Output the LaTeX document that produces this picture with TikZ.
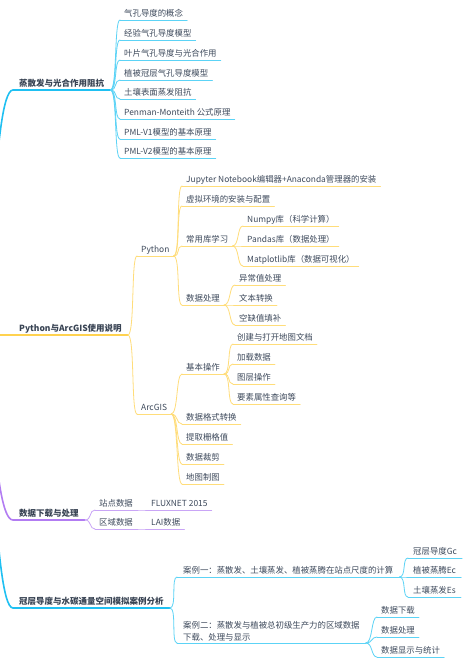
\documentclass[tikz,border=0pt]{standalone}
\usepackage{fontspec}
\setmainfont{Noto Sans CJK SC}
\definecolor{txt}{HTML}{3E4A5C}
\definecolor{cyanM}{HTML}{1FC0F2}
\definecolor{cyanL}{HTML}{5CD3F6}
\definecolor{yelM}{HTML}{FFD24F}
\definecolor{yelL}{HTML}{FFDD7A}
\definecolor{purM}{HTML}{B27CF2}
\definecolor{purL}{HTML}{C9A5F6}
\tikzset{
  leaf/.style={anchor=south west, inner xsep=4pt, inner ysep=2pt, text height=7pt, text depth=1.5pt,
    font=\fontsize{8.4}{10}\selectfont, text=txt},
  mainnode/.style={anchor=south west, inner xsep=6pt, inner ysep=2pt, text height=7pt, text depth=1.5pt,
    font=\fontsize{8.5}{10}\selectfont\bfseries, text=txt!90!black},
  twoline/.style={anchor=south west, inner xsep=6pt, inner ysep=2pt, align=left,
    font=\fontsize{8.4}{12}\selectfont, text=txt},
  thick1/.style={line width=1.6pt, line cap=round},
  thin1/.style={line width=0.8pt, line cap=round},
}
\newcommand\ul[2]{\draw[thin1,#1] (#2.south west) -- (#2.south east);}
\newcommand\lnk[3]{\draw[thin1,#1] (#2.south east) .. controls +(7,0) and +(-6,0) .. (#3.south west);}
\begin{document}
\begin{tikzpicture}[x=1pt,y=-1pt]
\useasboundingbox (0,0) rectangle (466,668);
\fill[white] (0,0) rectangle (466,668);
\clip (0,0) rectangle (466,668);
\coordinate (root) at (-20,335);

% ---------- Branch 1 ----------
\node[mainnode] (m1) at (13,90) {蒸散发与光合作用阻抗};
\draw[thick1,cyanM] (root) .. controls (-8,335) and (-8,90) .. (m1.south west) -- (m1.south east);
\node[leaf] (a1) at (120,20) {气孔导度的概念};
\node[leaf] (a2) at (120,40) {经验气孔导度模型};
\node[leaf] (a3) at (120,60) {叶片气孔导度与光合作用};
\node[leaf] (a4) at (120,80) {植被冠层气孔导度模型};
\node[leaf] (a5) at (120,99) {土壤表面蒸发阻抗};
\node[leaf] (a6) at (120,119) {Penman-Monteith 公式原理};
\node[leaf] (a7) at (120,139) {PML-V1模型的基本原理};
\node[leaf] (a8) at (120,158) {PML-V2模型的基本原理};
\foreach \n in {a1,a2,a3,a4,a5,a6,a7,a8}{\ul{cyanL}{\n}\lnk{cyanL}{m1}{\n}}

% ---------- Branch 2 ----------
\node[mainnode] (m2) at (13,335) {Python与ArcGIS使用说明};
\draw[thick1,yelM] (root) -- (m2.south west) -- (m2.south east);
\node[leaf] (py) at (137,256) {Python};
\node[leaf] (arc) at (137,414) {ArcGIS};
\foreach \n in {py,arc}{\ul{yelL}{\n}\lnk{yelL}{m2}{\n}}
\node[leaf] (j1) at (182,186) {Jupyter Notebook编辑器+Anaconda管理器的安装};
\node[leaf] (j2) at (182,206) {虚拟环境的安装与配置};
\node[leaf] (j3) at (182,246) {常用库学习};
\node[leaf] (j4) at (182,305) {数据处理};
\foreach \n in {j1,j2,j3,j4}{\ul{yelL}{\n}\lnk{yelL}{py}{\n}}
\node[leaf] (l1) at (243,226) {Numpy库（科学计算）};
\node[leaf] (l2) at (243,246) {Pandas库（数据处理）};
\node[leaf] (l3) at (243,266) {Matplotlib库（数据可视化）};
\foreach \n in {l1,l2,l3}{\ul{yelL}{\n}\lnk{yelL}{j3}{\n}}
\node[leaf] (p1) at (235,285) {异常值处理};
\node[leaf] (p2) at (235,305) {文本转换};
\node[leaf] (p3) at (235,325) {空缺值填补};
\foreach \n in {p1,p2,p3}{\ul{yelL}{\n}\lnk{yelL}{j4}{\n}}
\node[leaf] (k1) at (182,374) {基本操作};
\node[leaf] (k2) at (182,424) {数据格式转换};
\node[leaf] (k3) at (182,444) {提取栅格值};
\node[leaf] (k4) at (182,464) {数据裁剪};
\node[leaf] (k5) at (182,484) {地图制图};
\foreach \n in {k1,k2,k3,k4,k5}{\ul{yelL}{\n}\lnk{yelL}{arc}{\n}}
\node[leaf] (q1) at (233,344) {创建与打开地图文档};
\node[leaf] (q2) at (233,364) {加载数据};
\node[leaf] (q3) at (233,384) {图层操作};
\node[leaf] (q4) at (233,404) {要素属性查询等};
\foreach \n in {q1,q2,q3,q4}{\ul{yelL}{\n}\lnk{yelL}{k1}{\n}}

% ---------- Branch 3 ----------
\node[mainnode] (m3) at (13,520) {数据下载与处理};
\draw[thick1,purM] (root) .. controls (-8,335) and (-8,520) .. (m3.south west) -- (m3.south east);
\node[leaf] (d1) at (95,510) {站点数据};
\node[leaf] (d2) at (95,529) {区域数据};
\foreach \n in {d1,d2}{\ul{purL}{\n}\lnk{purL}{m3}{\n}}
\node[leaf] (f1) at (147,510) {FLUXNET 2015};
\node[leaf] (f2) at (147,529) {LAI数据};
\ul{purL}{f1}\lnk{purL}{d1}{f1}
\ul{purL}{f2}\lnk{purL}{d2}{f2}

% ---------- Branch 4 ----------
\node[mainnode] (m4) at (13,608) {冠层导度与水碳通量空间模拟案例分析};
\draw[thick1,cyanM] (root) .. controls (-8,335) and (-8,608) .. (m4.south west) -- (m4.south east);
\node[leaf, inner xsep=6pt] (e1) at (177,577) {案例一：蒸散发、土壤蒸发、植被蒸腾在站点尺度的计算};
\node[twoline] (e2) at (177,643) {案例二：蒸散发与植被总初级生产力的区域数据\\下载、处理与显示};
\foreach \n in {e1,e2}{\ul{cyanL}{\n}\lnk{cyanL}{m4}{\n}}
\node[leaf, inner xsep=5pt] (g1) at (408,558) {冠层导度Gc};
\node[leaf, inner xsep=5pt] (g2) at (408,577) {植被蒸腾Ec};
\node[leaf, inner xsep=5pt] (g3) at (408,597) {土壤蒸发Es};
\foreach \n in {g1,g2,g3}{\ul{cyanL}{\n}\lnk{cyanL}{e1}{\n}}
\node[leaf] (h1) at (377,617) {数据下载};
\node[leaf] (h2) at (377,637) {数据处理};
\node[leaf] (h3) at (377,657) {数据显示与统计};
\foreach \n in {h1,h2,h3}{\ul{cyanL}{\n}\lnk{cyanL}{e2}{\n}}
\end{tikzpicture}
\end{document}
